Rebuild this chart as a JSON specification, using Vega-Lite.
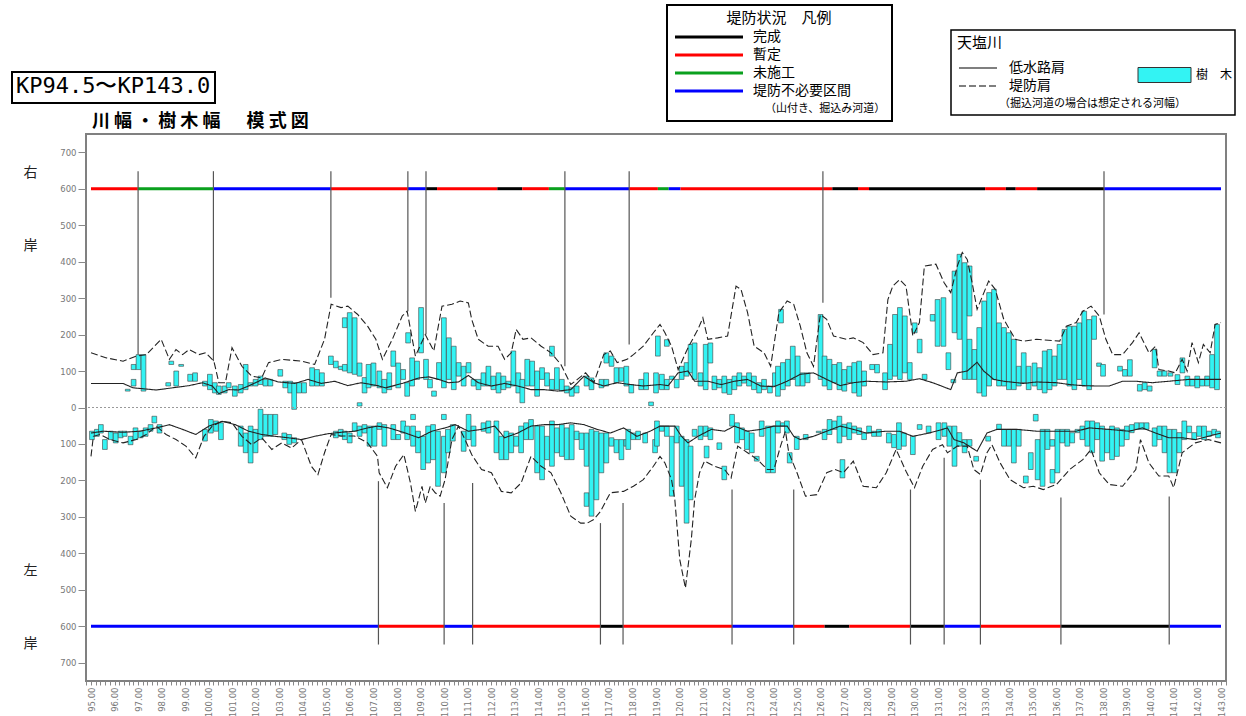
{
"$schema": "https://vega.github.io/schema/vega-lite/v6.json",
"width": 1140, "height": 547,
"autosize": {"type": "none"},
"padding": {"left": 86, "top": 134, "right": 20, "bottom": 35},
"background": "white",
"config": {"view": {"stroke": "#808080", "strokeWidth": 2}, "font": "Noto Sans CJK JP"},
"title": {"text": "川 幅 ・ 樹 木 幅 　 模 式 図", "anchor": "start", "frame": "group", "offset": 2, "dx": 6, "dy": 129, "fontSize": 18, "font": "Noto Sans CJK JP", "fontWeight": "bold", "color": "#000"},
"resolve": {"axis": {"x": "independent", "y": "independent"}},
"datasets": {
"lines": [
{"kp":95,"v":150,"bank":"右岸","kind":"堤防肩"},{"kp":95.66,"v":136,"bank":"右岸","kind":"堤防肩"},{"kp":96.36,"v":127,"bank":"右岸","kind":"堤防肩"},{"kp":96.92,"v":141,"bank":"右岸","kind":"堤防肩"},{"kp":97.35,"v":145,"bank":"右岸","kind":"堤防肩"},{"kp":97.98,"v":187,"bank":"右岸","kind":"堤防肩"},{"kp":98.33,"v":132,"bank":"右岸","kind":"堤防肩"},{"kp":98.61,"v":159,"bank":"右岸","kind":"堤防肩"},{"kp":98.89,"v":145,"bank":"右岸","kind":"堤防肩"},{"kp":99.17,"v":159,"bank":"右岸","kind":"堤防肩"},{"kp":99.59,"v":145,"bank":"右岸","kind":"堤防肩"},{"kp":99.87,"v":150,"bank":"右岸","kind":"堤防肩"},{"kp":100.22,"v":127,"bank":"右岸","kind":"堤防肩"},{"kp":100.43,"v":68,"bank":"右岸","kind":"堤防肩"},{"kp":100.71,"v":68,"bank":"右岸","kind":"堤防肩"},{"kp":100.99,"v":164,"bank":"右岸","kind":"堤防肩"},{"kp":101.41,"v":113,"bank":"右岸","kind":"堤防肩"},{"kp":101.83,"v":86,"bank":"右岸","kind":"堤防肩"},{"kp":102.25,"v":81,"bank":"右岸","kind":"堤防肩"},{"kp":102.54,"v":123,"bank":"右岸","kind":"堤防肩"},{"kp":103.1,"v":132,"bank":"右岸","kind":"堤防肩"},{"kp":103.94,"v":127,"bank":"右岸","kind":"堤防肩"},{"kp":104.5,"v":118,"bank":"右岸","kind":"堤防肩"},{"kp":104.92,"v":187,"bank":"右岸","kind":"堤防肩"},{"kp":105.2,"v":283,"bank":"右岸","kind":"堤防肩"},{"kp":105.62,"v":274,"bank":"右岸","kind":"堤防肩"},{"kp":105.91,"v":278,"bank":"右岸","kind":"堤防肩"},{"kp":106.33,"v":255,"bank":"右岸","kind":"堤防肩"},{"kp":106.75,"v":223,"bank":"右岸","kind":"堤防肩"},{"kp":107.1,"v":187,"bank":"右岸","kind":"堤防肩"},{"kp":107.38,"v":132,"bank":"右岸","kind":"堤防肩"},{"kp":107.8,"v":187,"bank":"右岸","kind":"堤防肩"},{"kp":108.22,"v":251,"bank":"右岸","kind":"堤防肩"},{"kp":108.43,"v":264,"bank":"右岸","kind":"堤防肩"},{"kp":108.78,"v":141,"bank":"右岸","kind":"堤防肩"},{"kp":109.2,"v":200,"bank":"右岸","kind":"堤防肩"},{"kp":109.56,"v":155,"bank":"右岸","kind":"堤防肩"},{"kp":109.91,"v":278,"bank":"右岸","kind":"堤防肩"},{"kp":110.33,"v":283,"bank":"右岸","kind":"堤防肩"},{"kp":110.68,"v":292,"bank":"右岸","kind":"堤防肩"},{"kp":111.03,"v":287,"bank":"右岸","kind":"堤防肩"},{"kp":111.17,"v":242,"bank":"右岸","kind":"堤防肩"},{"kp":111.45,"v":187,"bank":"右岸","kind":"堤防肩"},{"kp":111.87,"v":168,"bank":"右岸","kind":"堤防肩"},{"kp":112.29,"v":168,"bank":"右岸","kind":"堤防肩"},{"kp":112.57,"v":132,"bank":"右岸","kind":"堤防肩"},{"kp":112.85,"v":150,"bank":"右岸","kind":"堤防肩"},{"kp":113.06,"v":214,"bank":"右岸","kind":"堤防肩"},{"kp":113.35,"v":187,"bank":"右岸","kind":"堤防肩"},{"kp":113.69,"v":191,"bank":"右岸","kind":"堤防肩"},{"kp":114.12,"v":168,"bank":"右岸","kind":"堤防肩"},{"kp":114.54,"v":150,"bank":"右岸","kind":"堤防肩"},{"kp":114.96,"v":118,"bank":"右岸","kind":"堤防肩"},{"kp":115.38,"v":63,"bank":"右岸","kind":"堤防肩"},{"kp":115.66,"v":77,"bank":"右岸","kind":"堤防肩"},{"kp":116.01,"v":95,"bank":"右岸","kind":"堤防肩"},{"kp":116.36,"v":68,"bank":"右岸","kind":"堤防肩"},{"kp":116.78,"v":145,"bank":"右岸","kind":"堤防肩"},{"kp":117.06,"v":155,"bank":"右岸","kind":"堤防肩"},{"kp":117.35,"v":123,"bank":"右岸","kind":"堤防肩"},{"kp":117.77,"v":132,"bank":"右岸","kind":"堤防肩"},{"kp":118.04,"v":145,"bank":"右岸","kind":"堤防肩"},{"kp":118.46,"v":168,"bank":"右岸","kind":"堤防肩"},{"kp":118.89,"v":205,"bank":"右岸","kind":"堤防肩"},{"kp":119.17,"v":228,"bank":"右岸","kind":"堤防肩"},{"kp":119.38,"v":205,"bank":"右岸","kind":"堤防肩"},{"kp":119.66,"v":168,"bank":"右岸","kind":"堤防肩"},{"kp":119.94,"v":104,"bank":"右岸","kind":"堤防肩"},{"kp":120.36,"v":164,"bank":"右岸","kind":"堤防肩"},{"kp":120.78,"v":214,"bank":"右岸","kind":"堤防肩"},{"kp":120.99,"v":246,"bank":"右岸","kind":"堤防肩"},{"kp":121.2,"v":187,"bank":"右岸","kind":"堤防肩"},{"kp":121.62,"v":191,"bank":"右岸","kind":"堤防肩"},{"kp":122.04,"v":196,"bank":"右岸","kind":"堤防肩"},{"kp":122.4,"v":333,"bank":"右岸","kind":"堤防肩"},{"kp":122.61,"v":324,"bank":"右岸","kind":"堤防肩"},{"kp":122.89,"v":260,"bank":"右岸","kind":"堤防肩"},{"kp":123.17,"v":168,"bank":"右岸","kind":"堤防肩"},{"kp":123.59,"v":150,"bank":"右岸","kind":"堤防肩"},{"kp":123.87,"v":113,"bank":"右岸","kind":"堤防肩"},{"kp":124.22,"v":260,"bank":"右岸","kind":"堤防肩"},{"kp":124.57,"v":292,"bank":"右岸","kind":"堤防肩"},{"kp":124.85,"v":283,"bank":"右岸","kind":"堤防肩"},{"kp":125.13,"v":223,"bank":"右岸","kind":"堤防肩"},{"kp":125.41,"v":150,"bank":"右岸","kind":"堤防肩"},{"kp":125.69,"v":113,"bank":"右岸","kind":"堤防肩"},{"kp":125.98,"v":255,"bank":"右岸","kind":"堤防肩"},{"kp":126.25,"v":242,"bank":"右岸","kind":"堤防肩"},{"kp":126.54,"v":196,"bank":"右岸","kind":"堤防肩"},{"kp":127.1,"v":187,"bank":"右岸","kind":"堤防肩"},{"kp":127.38,"v":191,"bank":"右岸","kind":"堤防肩"},{"kp":127.8,"v":178,"bank":"右岸","kind":"堤防肩"},{"kp":128.22,"v":145,"bank":"右岸","kind":"堤防肩"},{"kp":128.64,"v":150,"bank":"右岸","kind":"堤防肩"},{"kp":128.85,"v":296,"bank":"右岸","kind":"堤防肩"},{"kp":129.06,"v":333,"bank":"右岸","kind":"堤防肩"},{"kp":129.35,"v":351,"bank":"右岸","kind":"堤防肩"},{"kp":129.62,"v":333,"bank":"右岸","kind":"堤防肩"},{"kp":129.91,"v":196,"bank":"右岸","kind":"堤防肩"},{"kp":130.19,"v":233,"bank":"右岸","kind":"堤防肩"},{"kp":130.4,"v":388,"bank":"右岸","kind":"堤防肩"},{"kp":130.89,"v":393,"bank":"右岸","kind":"堤防肩"},{"kp":131.24,"v":342,"bank":"右岸","kind":"堤防肩"},{"kp":131.52,"v":315,"bank":"右岸","kind":"堤防肩"},{"kp":131.8,"v":388,"bank":"右岸","kind":"堤防肩"},{"kp":132.01,"v":425,"bank":"右岸","kind":"堤防肩"},{"kp":132.22,"v":406,"bank":"右岸","kind":"堤防肩"},{"kp":132.43,"v":342,"bank":"右岸","kind":"堤防肩"},{"kp":132.64,"v":269,"bank":"右岸","kind":"堤防肩"},{"kp":133.13,"v":347,"bank":"右岸","kind":"堤防肩"},{"kp":133.41,"v":324,"bank":"右岸","kind":"堤防肩"},{"kp":133.77,"v":242,"bank":"右岸","kind":"堤防肩"},{"kp":134.26,"v":187,"bank":"右岸","kind":"堤防肩"},{"kp":134.61,"v":182,"bank":"右岸","kind":"堤防肩"},{"kp":135.17,"v":187,"bank":"右岸","kind":"堤防肩"},{"kp":136.15,"v":182,"bank":"右岸","kind":"堤防肩"},{"kp":136.43,"v":223,"bank":"右岸","kind":"堤防肩"},{"kp":136.85,"v":233,"bank":"右岸","kind":"堤防肩"},{"kp":137.13,"v":264,"bank":"右岸","kind":"堤防肩"},{"kp":137.48,"v":278,"bank":"右岸","kind":"堤防肩"},{"kp":137.83,"v":251,"bank":"右岸","kind":"堤防肩"},{"kp":138.11,"v":187,"bank":"右岸","kind":"堤防肩"},{"kp":138.4,"v":145,"bank":"右岸","kind":"堤防肩"},{"kp":138.82,"v":145,"bank":"右岸","kind":"堤防肩"},{"kp":139.24,"v":178,"bank":"右岸","kind":"堤防肩"},{"kp":139.52,"v":205,"bank":"右岸","kind":"堤防肩"},{"kp":139.94,"v":150,"bank":"右岸","kind":"堤防肩"},{"kp":140.22,"v":168,"bank":"右岸","kind":"堤防肩"},{"kp":140.36,"v":104,"bank":"右岸","kind":"堤防肩"},{"kp":140.78,"v":100,"bank":"右岸","kind":"堤防肩"},{"kp":141.06,"v":95,"bank":"右岸","kind":"堤防肩"},{"kp":141.35,"v":132,"bank":"右岸","kind":"堤防肩"},{"kp":141.56,"v":100,"bank":"右岸","kind":"堤防肩"},{"kp":141.77,"v":178,"bank":"右岸","kind":"堤防肩"},{"kp":142.04,"v":123,"bank":"右岸","kind":"堤防肩"},{"kp":142.25,"v":173,"bank":"右岸","kind":"堤防肩"},{"kp":142.54,"v":150,"bank":"右岸","kind":"堤防肩"},{"kp":142.75,"v":228,"bank":"右岸","kind":"堤防肩"},{"kp":143,"v":233,"bank":"右岸","kind":"堤防肩"},
{"kp":95,"v":66,"bank":"右岸","kind":"低水路肩"},{"kp":96.36,"v":66,"bank":"右岸","kind":"低水路肩"},{"kp":96.78,"v":54,"bank":"右岸","kind":"低水路肩"},{"kp":97.77,"v":48,"bank":"右岸","kind":"低水路肩"},{"kp":98.47,"v":54,"bank":"右岸","kind":"低水路肩"},{"kp":99.17,"v":60,"bank":"右岸","kind":"低水路肩"},{"kp":99.73,"v":68,"bank":"右岸","kind":"低水路肩"},{"kp":100.15,"v":59,"bank":"右岸","kind":"低水路肩"},{"kp":100.43,"v":38,"bank":"右岸","kind":"低水路肩"},{"kp":100.85,"v":49,"bank":"右岸","kind":"低水路肩"},{"kp":101.27,"v":48,"bank":"右岸","kind":"低水路肩"},{"kp":101.69,"v":59,"bank":"右岸","kind":"低水路肩"},{"kp":102.12,"v":72,"bank":"右岸","kind":"低水路肩"},{"kp":102.4,"v":81,"bank":"右岸","kind":"低水路肩"},{"kp":102.96,"v":70,"bank":"右岸","kind":"低水路肩"},{"kp":103.66,"v":66,"bank":"右岸","kind":"低水路肩"},{"kp":104.22,"v":77,"bank":"右岸","kind":"低水路肩"},{"kp":104.78,"v":66,"bank":"右岸","kind":"低水路肩"},{"kp":105.35,"v":72,"bank":"右岸","kind":"低水路肩"},{"kp":105.91,"v":60,"bank":"右岸","kind":"低水路肩"},{"kp":106.47,"v":68,"bank":"右岸","kind":"低水路肩"},{"kp":107.17,"v":60,"bank":"右岸","kind":"低水路肩"},{"kp":107.52,"v":54,"bank":"右岸","kind":"低水路肩"},{"kp":108.22,"v":66,"bank":"右岸","kind":"低水路肩"},{"kp":108.92,"v":81,"bank":"右岸","kind":"低水路肩"},{"kp":109.35,"v":84,"bank":"右岸","kind":"低水路肩"},{"kp":109.77,"v":77,"bank":"右岸","kind":"低水路肩"},{"kp":110.19,"v":68,"bank":"右岸","kind":"低水路肩"},{"kp":110.61,"v":70,"bank":"右岸","kind":"低水路肩"},{"kp":111.03,"v":88,"bank":"右岸","kind":"低水路肩"},{"kp":111.45,"v":68,"bank":"右岸","kind":"低水路肩"},{"kp":112.01,"v":59,"bank":"右岸","kind":"低水路肩"},{"kp":112.57,"v":66,"bank":"右岸","kind":"低水路肩"},{"kp":113.13,"v":59,"bank":"右岸","kind":"低水路肩"},{"kp":113.69,"v":49,"bank":"右岸","kind":"低水路肩"},{"kp":114.25,"v":49,"bank":"右岸","kind":"低水路肩"},{"kp":114.82,"v":45,"bank":"右岸","kind":"低水路肩"},{"kp":115.38,"v":49,"bank":"右岸","kind":"低水路肩"},{"kp":115.94,"v":86,"bank":"右岸","kind":"低水路肩"},{"kp":116.36,"v":68,"bank":"右岸","kind":"低水路肩"},{"kp":116.78,"v":59,"bank":"右岸","kind":"低水路肩"},{"kp":117.35,"v":68,"bank":"右岸","kind":"低水路肩"},{"kp":117.91,"v":63,"bank":"右岸","kind":"低水路肩"},{"kp":118.46,"v":59,"bank":"右岸","kind":"低水路肩"},{"kp":119.17,"v":63,"bank":"右岸","kind":"低水路肩"},{"kp":119.52,"v":60,"bank":"右岸","kind":"低水路肩"},{"kp":119.94,"v":95,"bank":"右岸","kind":"低水路肩"},{"kp":120.36,"v":100,"bank":"右岸","kind":"低水路肩"},{"kp":120.64,"v":72,"bank":"右岸","kind":"低水路肩"},{"kp":121.2,"v":72,"bank":"右岸","kind":"低水路肩"},{"kp":121.77,"v":63,"bank":"右岸","kind":"低水路肩"},{"kp":122.33,"v":72,"bank":"右岸","kind":"低水路肩"},{"kp":122.89,"v":77,"bank":"右岸","kind":"低水路肩"},{"kp":123.45,"v":59,"bank":"右岸","kind":"低水路肩"},{"kp":124.01,"v":57,"bank":"右岸","kind":"低水路肩"},{"kp":124.57,"v":72,"bank":"右岸","kind":"低水路肩"},{"kp":125.13,"v":91,"bank":"右岸","kind":"低水路肩"},{"kp":125.69,"v":95,"bank":"右岸","kind":"低水路肩"},{"kp":126.25,"v":77,"bank":"右岸","kind":"低水路肩"},{"kp":126.82,"v":60,"bank":"右岸","kind":"低水路肩"},{"kp":127.38,"v":68,"bank":"右岸","kind":"低水路肩"},{"kp":127.94,"v":72,"bank":"右岸","kind":"低水路肩"},{"kp":128.78,"v":70,"bank":"右岸","kind":"低水路肩"},{"kp":129.62,"v":72,"bank":"右岸","kind":"低水路肩"},{"kp":130.19,"v":79,"bank":"右岸","kind":"低水路肩"},{"kp":130.75,"v":68,"bank":"右岸","kind":"低水路肩"},{"kp":130.96,"v":63,"bank":"右岸","kind":"低水路肩"},{"kp":131.52,"v":49,"bank":"右岸","kind":"低水路肩"},{"kp":131.8,"v":95,"bank":"右岸","kind":"低水路肩"},{"kp":132.22,"v":100,"bank":"右岸","kind":"低水路肩"},{"kp":132.64,"v":124,"bank":"右岸","kind":"低水路肩"},{"kp":132.92,"v":100,"bank":"右岸","kind":"低水路肩"},{"kp":133.35,"v":77,"bank":"右岸","kind":"低水路肩"},{"kp":133.77,"v":72,"bank":"右岸","kind":"低水路肩"},{"kp":134.61,"v":66,"bank":"右岸","kind":"低水路肩"},{"kp":135.17,"v":70,"bank":"右岸","kind":"低水路肩"},{"kp":136.01,"v":68,"bank":"右岸","kind":"低水路肩"},{"kp":136.57,"v":63,"bank":"右岸","kind":"低水路肩"},{"kp":137.13,"v":60,"bank":"右岸","kind":"低水路肩"},{"kp":137.69,"v":59,"bank":"右岸","kind":"低水路肩"},{"kp":138.25,"v":59,"bank":"右岸","kind":"低水路肩"},{"kp":138.82,"v":72,"bank":"右岸","kind":"低水路肩"},{"kp":139.38,"v":72,"bank":"右岸","kind":"低水路肩"},{"kp":140.08,"v":68,"bank":"右岸","kind":"低水路肩"},{"kp":140.78,"v":72,"bank":"右岸","kind":"低水路肩"},{"kp":141.62,"v":77,"bank":"右岸","kind":"低水路肩"},{"kp":142.46,"v":77,"bank":"右岸","kind":"低水路肩"},{"kp":143,"v":77,"bank":"右岸","kind":"低水路肩"},
{"kp":95,"v":-70,"bank":"左岸","kind":"低水路肩"},{"kp":95.52,"v":-65,"bank":"左岸","kind":"低水路肩"},{"kp":96.36,"v":-68,"bank":"左岸","kind":"低水路肩"},{"kp":97.06,"v":-65,"bank":"左岸","kind":"低水路肩"},{"kp":97.77,"v":-56,"bank":"左岸","kind":"低水路肩"},{"kp":98.33,"v":-47,"bank":"左岸","kind":"低水路肩"},{"kp":98.89,"v":-60,"bank":"左岸","kind":"低水路肩"},{"kp":99.45,"v":-74,"bank":"左岸","kind":"低水路肩"},{"kp":100.01,"v":-51,"bank":"左岸","kind":"低水路肩"},{"kp":100.57,"v":-38,"bank":"左岸","kind":"低水路肩"},{"kp":101.13,"v":-47,"bank":"左岸","kind":"低水路肩"},{"kp":101.69,"v":-65,"bank":"左岸","kind":"低水路肩"},{"kp":102.25,"v":-74,"bank":"左岸","kind":"低水路肩"},{"kp":102.82,"v":-79,"bank":"左岸","kind":"低水路肩"},{"kp":103.38,"v":-83,"bank":"左岸","kind":"低水路肩"},{"kp":103.94,"v":-88,"bank":"左岸","kind":"低水路肩"},{"kp":104.5,"v":-79,"bank":"左岸","kind":"低水路肩"},{"kp":105.06,"v":-72,"bank":"左岸","kind":"低水路肩"},{"kp":105.62,"v":-68,"bank":"左岸","kind":"低水路肩"},{"kp":106.19,"v":-65,"bank":"左岸","kind":"低水路肩"},{"kp":106.75,"v":-56,"bank":"左岸","kind":"低水路肩"},{"kp":107.17,"v":-51,"bank":"左岸","kind":"低水路肩"},{"kp":107.66,"v":-56,"bank":"左岸","kind":"低水路肩"},{"kp":108.36,"v":-70,"bank":"左岸","kind":"低水路肩"},{"kp":108.92,"v":-83,"bank":"左岸","kind":"低水路肩"},{"kp":109.48,"v":-65,"bank":"左岸","kind":"低水路肩"},{"kp":110.04,"v":-56,"bank":"左岸","kind":"低水路肩"},{"kp":110.47,"v":-47,"bank":"左岸","kind":"低水路肩"},{"kp":111.03,"v":-65,"bank":"左岸","kind":"低水路肩"},{"kp":111.59,"v":-60,"bank":"左岸","kind":"低水路肩"},{"kp":112.15,"v":-51,"bank":"左岸","kind":"低水路肩"},{"kp":112.57,"v":-83,"bank":"左岸","kind":"低水路肩"},{"kp":113.13,"v":-70,"bank":"左岸","kind":"低水路肩"},{"kp":113.69,"v":-51,"bank":"左岸","kind":"低水路肩"},{"kp":114.25,"v":-47,"bank":"左岸","kind":"低水路肩"},{"kp":114.82,"v":-47,"bank":"左岸","kind":"低水路肩"},{"kp":115.38,"v":-42,"bank":"左岸","kind":"低水路肩"},{"kp":115.94,"v":-47,"bank":"左岸","kind":"低水路肩"},{"kp":116.5,"v":-60,"bank":"左岸","kind":"低水路肩"},{"kp":117.06,"v":-70,"bank":"左岸","kind":"低水路肩"},{"kp":117.62,"v":-56,"bank":"左岸","kind":"低水路肩"},{"kp":118.19,"v":-79,"bank":"左岸","kind":"低水路肩"},{"kp":118.75,"v":-65,"bank":"左岸","kind":"低水路肩"},{"kp":119.17,"v":-51,"bank":"左岸","kind":"低水路肩"},{"kp":119.8,"v":-51,"bank":"左岸","kind":"低水路肩"},{"kp":120.08,"v":-79,"bank":"左岸","kind":"低水路肩"},{"kp":120.36,"v":-97,"bank":"左岸","kind":"低水路肩"},{"kp":120.78,"v":-79,"bank":"左岸","kind":"低水路肩"},{"kp":121.35,"v":-60,"bank":"左岸","kind":"低水路肩"},{"kp":121.91,"v":-65,"bank":"左岸","kind":"低水路肩"},{"kp":122.33,"v":-51,"bank":"左岸","kind":"低水路肩"},{"kp":122.89,"v":-65,"bank":"左岸","kind":"低水路肩"},{"kp":123.45,"v":-60,"bank":"左岸","kind":"低水路肩"},{"kp":124.01,"v":-51,"bank":"左岸","kind":"低水路肩"},{"kp":124.57,"v":-51,"bank":"左岸","kind":"低水路肩"},{"kp":124.85,"v":-79,"bank":"左岸","kind":"低水路肩"},{"kp":125.13,"v":-88,"bank":"左岸","kind":"低水路肩"},{"kp":125.69,"v":-79,"bank":"左岸","kind":"低水路肩"},{"kp":126.25,"v":-65,"bank":"左岸","kind":"低水路肩"},{"kp":126.82,"v":-51,"bank":"左岸","kind":"低水路肩"},{"kp":127.38,"v":-60,"bank":"左岸","kind":"低水路肩"},{"kp":127.94,"v":-70,"bank":"左岸","kind":"低水路肩"},{"kp":128.78,"v":-65,"bank":"左岸","kind":"低水路肩"},{"kp":129.35,"v":-65,"bank":"左岸","kind":"低水路肩"},{"kp":129.91,"v":-79,"bank":"左岸","kind":"低水路肩"},{"kp":130.61,"v":-70,"bank":"左岸","kind":"低水路肩"},{"kp":131.17,"v":-60,"bank":"左岸","kind":"低水路肩"},{"kp":131.38,"v":-56,"bank":"左岸","kind":"低水路肩"},{"kp":131.66,"v":-88,"bank":"左岸","kind":"低水路肩"},{"kp":132.08,"v":-97,"bank":"左岸","kind":"低水路肩"},{"kp":132.64,"v":-120,"bank":"左岸","kind":"低水路肩"},{"kp":133.06,"v":-70,"bank":"左岸","kind":"低水路肩"},{"kp":133.48,"v":-60,"bank":"左岸","kind":"低水路肩"},{"kp":134.33,"v":-60,"bank":"左岸","kind":"低水路肩"},{"kp":135.17,"v":-65,"bank":"左岸","kind":"低水路肩"},{"kp":136.01,"v":-65,"bank":"左岸","kind":"低水路肩"},{"kp":136.85,"v":-65,"bank":"左岸","kind":"低水路肩"},{"kp":137.41,"v":-56,"bank":"左岸","kind":"低水路肩"},{"kp":138.25,"v":-60,"bank":"左岸","kind":"低水路肩"},{"kp":139.09,"v":-65,"bank":"左岸","kind":"低水路肩"},{"kp":139.66,"v":-56,"bank":"左岸","kind":"低水路肩"},{"kp":140.22,"v":-70,"bank":"左岸","kind":"低水路肩"},{"kp":140.78,"v":-83,"bank":"左岸","kind":"低水路肩"},{"kp":141.35,"v":-83,"bank":"左岸","kind":"低水路肩"},{"kp":141.91,"v":-88,"bank":"左岸","kind":"低水路肩"},{"kp":142.46,"v":-79,"bank":"左岸","kind":"低水路肩"},{"kp":143,"v":-70,"bank":"左岸","kind":"低水路肩"},
{"kp":95,"v":-134,"bank":"左岸","kind":"堤防肩"},{"kp":95.1,"v":-79,"bank":"左岸","kind":"堤防肩"},{"kp":95.38,"v":-74,"bank":"左岸","kind":"堤防肩"},{"kp":95.8,"v":-88,"bank":"左岸","kind":"堤防肩"},{"kp":96.36,"v":-97,"bank":"左岸","kind":"堤防肩"},{"kp":96.92,"v":-88,"bank":"左岸","kind":"堤防肩"},{"kp":97.35,"v":-74,"bank":"左岸","kind":"堤防肩"},{"kp":97.77,"v":-51,"bank":"左岸","kind":"堤防肩"},{"kp":98.19,"v":-74,"bank":"左岸","kind":"堤防肩"},{"kp":98.61,"v":-88,"bank":"左岸","kind":"堤防肩"},{"kp":99.03,"v":-106,"bank":"左岸","kind":"堤防肩"},{"kp":99.45,"v":-138,"bank":"左岸","kind":"堤防肩"},{"kp":99.8,"v":-79,"bank":"左岸","kind":"堤防肩"},{"kp":100.15,"v":-51,"bank":"左岸","kind":"堤防肩"},{"kp":100.57,"v":-38,"bank":"左岸","kind":"堤防肩"},{"kp":100.99,"v":-42,"bank":"左岸","kind":"堤防肩"},{"kp":101.41,"v":-79,"bank":"左岸","kind":"堤防肩"},{"kp":101.83,"v":-102,"bank":"左岸","kind":"堤防肩"},{"kp":102.25,"v":-83,"bank":"左岸","kind":"堤防肩"},{"kp":102.68,"v":-115,"bank":"左岸","kind":"堤防肩"},{"kp":103.1,"v":-97,"bank":"左岸","kind":"堤防肩"},{"kp":103.52,"v":-111,"bank":"左岸","kind":"堤防肩"},{"kp":103.94,"v":-88,"bank":"左岸","kind":"堤防肩"},{"kp":104.36,"v":-161,"bank":"左岸","kind":"堤防肩"},{"kp":104.64,"v":-184,"bank":"左岸","kind":"堤防肩"},{"kp":104.92,"v":-124,"bank":"左岸","kind":"堤防肩"},{"kp":105.2,"v":-74,"bank":"左岸","kind":"堤防肩"},{"kp":105.62,"v":-78,"bank":"左岸","kind":"堤防肩"},{"kp":106.19,"v":-78,"bank":"左岸","kind":"堤防肩"},{"kp":106.75,"v":-97,"bank":"左岸","kind":"堤防肩"},{"kp":107.17,"v":-134,"bank":"左岸","kind":"堤防肩"},{"kp":107.24,"v":-179,"bank":"左岸","kind":"堤防肩"},{"kp":107.59,"v":-220,"bank":"左岸","kind":"堤防肩"},{"kp":107.94,"v":-161,"bank":"左岸","kind":"堤防肩"},{"kp":108.29,"v":-129,"bank":"左岸","kind":"堤防肩"},{"kp":108.57,"v":-207,"bank":"左岸","kind":"堤防肩"},{"kp":108.78,"v":-285,"bank":"左岸","kind":"堤防肩"},{"kp":109.06,"v":-216,"bank":"左岸","kind":"堤防肩"},{"kp":109.2,"v":-262,"bank":"左岸","kind":"堤防肩"},{"kp":109.41,"v":-216,"bank":"左岸","kind":"堤防肩"},{"kp":109.62,"v":-234,"bank":"左岸","kind":"堤防肩"},{"kp":109.83,"v":-243,"bank":"左岸","kind":"堤防肩"},{"kp":110.04,"v":-198,"bank":"左岸","kind":"堤防肩"},{"kp":110.33,"v":-88,"bank":"左岸","kind":"堤防肩"},{"kp":110.61,"v":-51,"bank":"左岸","kind":"堤防肩"},{"kp":110.89,"v":-88,"bank":"左岸","kind":"堤防肩"},{"kp":111.17,"v":-129,"bank":"左岸","kind":"堤防肩"},{"kp":111.59,"v":-170,"bank":"左岸","kind":"堤防肩"},{"kp":112.01,"v":-179,"bank":"左岸","kind":"堤防肩"},{"kp":112.43,"v":-230,"bank":"左岸","kind":"堤防肩"},{"kp":112.85,"v":-234,"bank":"左岸","kind":"堤防肩"},{"kp":113.27,"v":-207,"bank":"左岸","kind":"堤防肩"},{"kp":113.69,"v":-134,"bank":"左岸","kind":"堤防肩"},{"kp":114.12,"v":-161,"bank":"左岸","kind":"堤防肩"},{"kp":114.54,"v":-179,"bank":"左岸","kind":"堤防肩"},{"kp":114.96,"v":-234,"bank":"左岸","kind":"堤防肩"},{"kp":115.38,"v":-298,"bank":"左岸","kind":"堤防肩"},{"kp":115.8,"v":-317,"bank":"左岸","kind":"堤防肩"},{"kp":116.08,"v":-317,"bank":"左岸","kind":"堤防肩"},{"kp":116.36,"v":-307,"bank":"左岸","kind":"堤防肩"},{"kp":116.64,"v":-285,"bank":"左岸","kind":"堤防肩"},{"kp":117.06,"v":-234,"bank":"左岸","kind":"堤防肩"},{"kp":117.62,"v":-230,"bank":"左岸","kind":"堤防肩"},{"kp":118.04,"v":-216,"bank":"左岸","kind":"堤防肩"},{"kp":118.46,"v":-198,"bank":"左岸","kind":"堤防肩"},{"kp":118.89,"v":-161,"bank":"左岸","kind":"堤防肩"},{"kp":119.17,"v":-134,"bank":"左岸","kind":"堤防肩"},{"kp":119.38,"v":-152,"bank":"左岸","kind":"堤防肩"},{"kp":119.66,"v":-198,"bank":"左岸","kind":"堤防肩"},{"kp":119.8,"v":-253,"bank":"左岸","kind":"堤防肩"},{"kp":120.01,"v":-417,"bank":"左岸","kind":"堤防肩"},{"kp":120.25,"v":-495,"bank":"左岸","kind":"堤防肩"},{"kp":120.5,"v":-362,"bank":"左岸","kind":"堤防肩"},{"kp":120.64,"v":-253,"bank":"左岸","kind":"堤防肩"},{"kp":120.85,"v":-179,"bank":"左岸","kind":"堤防肩"},{"kp":121.06,"v":-147,"bank":"左岸","kind":"堤防肩"},{"kp":121.48,"v":-161,"bank":"左岸","kind":"堤防肩"},{"kp":121.91,"v":-170,"bank":"左岸","kind":"堤防肩"},{"kp":122.19,"v":-193,"bank":"左岸","kind":"堤防肩"},{"kp":122.47,"v":-106,"bank":"左岸","kind":"堤防肩"},{"kp":122.89,"v":-124,"bank":"左岸","kind":"堤防肩"},{"kp":123.31,"v":-143,"bank":"左岸","kind":"堤防肩"},{"kp":123.73,"v":-170,"bank":"左岸","kind":"堤防肩"},{"kp":124.01,"v":-170,"bank":"左岸","kind":"堤防肩"},{"kp":124.29,"v":-106,"bank":"左岸","kind":"堤防肩"},{"kp":124.5,"v":-65,"bank":"左岸","kind":"堤防肩"},{"kp":124.64,"v":-124,"bank":"左岸","kind":"堤防肩"},{"kp":124.99,"v":-179,"bank":"左岸","kind":"堤防肩"},{"kp":125.35,"v":-243,"bank":"左岸","kind":"堤防肩"},{"kp":125.83,"v":-239,"bank":"左岸","kind":"堤防肩"},{"kp":126.25,"v":-179,"bank":"左岸","kind":"堤防肩"},{"kp":126.61,"v":-170,"bank":"左岸","kind":"堤防肩"},{"kp":126.96,"v":-179,"bank":"左岸","kind":"堤防肩"},{"kp":127.38,"v":-147,"bank":"左岸","kind":"堤防肩"},{"kp":127.8,"v":-216,"bank":"左岸","kind":"堤防肩"},{"kp":128.36,"v":-220,"bank":"左岸","kind":"堤防肩"},{"kp":128.78,"v":-179,"bank":"左岸","kind":"堤防肩"},{"kp":129.2,"v":-115,"bank":"左岸","kind":"堤防肩"},{"kp":129.62,"v":-175,"bank":"左岸","kind":"堤防肩"},{"kp":129.98,"v":-220,"bank":"左岸","kind":"堤防肩"},{"kp":130.33,"v":-161,"bank":"左岸","kind":"堤防肩"},{"kp":130.75,"v":-115,"bank":"左岸","kind":"堤防肩"},{"kp":131.17,"v":-102,"bank":"左岸","kind":"堤防肩"},{"kp":131.38,"v":-124,"bank":"左岸","kind":"堤防肩"},{"kp":131.8,"v":-106,"bank":"左岸","kind":"堤防肩"},{"kp":132.22,"v":-106,"bank":"左岸","kind":"堤防肩"},{"kp":132.5,"v":-170,"bank":"左岸","kind":"堤防肩"},{"kp":132.78,"v":-184,"bank":"左岸","kind":"堤防肩"},{"kp":133.06,"v":-124,"bank":"左岸","kind":"堤防肩"},{"kp":133.27,"v":-102,"bank":"左岸","kind":"堤防肩"},{"kp":133.62,"v":-152,"bank":"左岸","kind":"堤防肩"},{"kp":134.04,"v":-198,"bank":"左岸","kind":"堤防肩"},{"kp":134.61,"v":-220,"bank":"左岸","kind":"堤防肩"},{"kp":135.03,"v":-216,"bank":"左岸","kind":"堤防肩"},{"kp":135.45,"v":-225,"bank":"左岸","kind":"堤防肩"},{"kp":136.01,"v":-211,"bank":"左岸","kind":"堤防肩"},{"kp":136.57,"v":-170,"bank":"左岸","kind":"堤防肩"},{"kp":137.13,"v":-143,"bank":"左岸","kind":"堤防肩"},{"kp":137.48,"v":-115,"bank":"左岸","kind":"堤防肩"},{"kp":137.83,"v":-179,"bank":"左岸","kind":"堤防肩"},{"kp":138.25,"v":-211,"bank":"左岸","kind":"堤防肩"},{"kp":138.82,"v":-216,"bank":"左岸","kind":"堤防肩"},{"kp":139.38,"v":-170,"bank":"左岸","kind":"堤防肩"},{"kp":139.58,"v":-88,"bank":"左岸","kind":"堤防肩"},{"kp":139.94,"v":-152,"bank":"左岸","kind":"堤防肩"},{"kp":140.36,"v":-188,"bank":"左岸","kind":"堤防肩"},{"kp":140.78,"v":-188,"bank":"左岸","kind":"堤防肩"},{"kp":140.99,"v":-220,"bank":"左岸","kind":"堤防肩"},{"kp":141.35,"v":-124,"bank":"左岸","kind":"堤防肩"},{"kp":141.91,"v":-97,"bank":"左岸","kind":"堤防肩"},{"kp":142.46,"v":-88,"bank":"左岸","kind":"堤防肩"},{"kp":143,"v":-97,"bank":"左岸","kind":"堤防肩"}
],
"trees": [
{"kp":96.56,"lo":45,"hi":50},{"kp":96.81,"lo":104,"hi":118},{"kp":96.81,"lo":59,"hi":77},{"kp":97.02,"lo":104,"hi":145},{"kp":97.23,"lo":45,"hi":145},{"kp":98.28,"lo":59,"hi":68},{"kp":98.41,"lo":118,"hi":127},{"kp":98.62,"lo":59,"hi":100},{"kp":98.83,"lo":113,"hi":118},{"kp":99.21,"lo":72,"hi":91},{"kp":99.42,"lo":72,"hi":95},{"kp":99.84,"lo":59,"hi":72},{"kp":100.05,"lo":49,"hi":91},{"kp":100.26,"lo":40,"hi":68},{"kp":100.43,"lo":36,"hi":59},{"kp":100.68,"lo":40,"hi":59},{"kp":100.85,"lo":54,"hi":68},{"kp":101.11,"lo":31,"hi":59},{"kp":101.36,"lo":40,"hi":63},{"kp":101.57,"lo":49,"hi":118},{"kp":101.78,"lo":59,"hi":68},{"kp":101.99,"lo":59,"hi":77},{"kp":102.2,"lo":63,"hi":86},{"kp":102.41,"lo":59,"hi":77},{"kp":102.62,"lo":59,"hi":77},{"kp":103.04,"lo":86,"hi":104},{"kp":103.25,"lo":54,"hi":72},{"kp":103.46,"lo":40,"hi":72},{"kp":103.63,"lo":-5,"hi":68},{"kp":103.84,"lo":40,"hi":68},{"kp":104.05,"lo":40,"hi":68},{"kp":104.39,"lo":59,"hi":109},{"kp":104.6,"lo":59,"hi":104},{"kp":104.81,"lo":59,"hi":95},{"kp":105.19,"lo":118,"hi":141},{"kp":105.4,"lo":109,"hi":127},{"kp":105.61,"lo":104,"hi":113},{"kp":105.78,"lo":219,"hi":246},{"kp":105.78,"lo":100,"hi":118},{"kp":105.99,"lo":95,"hi":260},{"kp":106.2,"lo":91,"hi":246},{"kp":106.41,"lo":86,"hi":122},{"kp":106.41,"lo":4,"hi":13},{"kp":106.62,"lo":40,"hi":82},{"kp":106.79,"lo":54,"hi":118},{"kp":107,"lo":59,"hi":122},{"kp":107.25,"lo":54,"hi":100},{"kp":107.46,"lo":40,"hi":77},{"kp":107.67,"lo":49,"hi":95},{"kp":107.84,"lo":113,"hi":155},{"kp":108.05,"lo":54,"hi":122},{"kp":108.26,"lo":77,"hi":104},{"kp":108.43,"lo":31,"hi":68},{"kp":108.47,"lo":177,"hi":205},{"kp":108.64,"lo":59,"hi":136},{"kp":108.85,"lo":77,"hi":127},{"kp":109.02,"lo":150,"hi":274},{"kp":109.23,"lo":77,"hi":132},{"kp":109.4,"lo":54,"hi":77},{"kp":109.57,"lo":31,"hi":45},{"kp":109.78,"lo":77,"hi":123},{"kp":109.99,"lo":54,"hi":246},{"kp":110.2,"lo":77,"hi":191},{"kp":110.41,"lo":49,"hi":168},{"kp":110.62,"lo":86,"hi":123},{"kp":110.83,"lo":59,"hi":113},{"kp":111.04,"lo":95,"hi":123},{"kp":111.25,"lo":59,"hi":77},{"kp":111.46,"lo":49,"hi":77},{"kp":111.67,"lo":59,"hi":95},{"kp":111.88,"lo":59,"hi":113},{"kp":112.09,"lo":49,"hi":86},{"kp":112.31,"lo":40,"hi":95},{"kp":112.52,"lo":49,"hi":86},{"kp":112.73,"lo":54,"hi":72},{"kp":112.94,"lo":59,"hi":155},{"kp":113.15,"lo":40,"hi":95},{"kp":113.32,"lo":13,"hi":77},{"kp":113.53,"lo":59,"hi":132},{"kp":113.74,"lo":59,"hi":127},{"kp":113.95,"lo":31,"hi":100},{"kp":114.16,"lo":77,"hi":109},{"kp":114.37,"lo":59,"hi":95},{"kp":114.58,"lo":141,"hi":168},{"kp":114.58,"lo":49,"hi":77},{"kp":114.79,"lo":49,"hi":109},{"kp":115,"lo":45,"hi":77},{"kp":115.21,"lo":40,"hi":59},{"kp":115.42,"lo":31,"hi":54},{"kp":115.63,"lo":40,"hi":59},{"kp":116.05,"lo":59,"hi":86},{"kp":116.26,"lo":49,"hi":81},{"kp":116.68,"lo":54,"hi":77},{"kp":116.89,"lo":122,"hi":150},{"kp":116.89,"lo":59,"hi":77},{"kp":117.11,"lo":113,"hi":141},{"kp":117.32,"lo":68,"hi":109},{"kp":117.53,"lo":72,"hi":109},{"kp":117.74,"lo":59,"hi":113},{"kp":117.95,"lo":40,"hi":63},{"kp":118.37,"lo":49,"hi":77},{"kp":118.58,"lo":49,"hi":95},{"kp":118.79,"lo":5,"hi":15},{"kp":119,"lo":40,"hi":95},{"kp":119.08,"lo":141,"hi":196},{"kp":119.25,"lo":49,"hi":91},{"kp":119.46,"lo":168,"hi":186},{"kp":119.46,"lo":49,"hi":77},{"kp":119.67,"lo":77,"hi":86},{"kp":119.88,"lo":54,"hi":77},{"kp":120.09,"lo":77,"hi":113},{"kp":120.3,"lo":86,"hi":123},{"kp":120.47,"lo":95,"hi":173},{"kp":120.64,"lo":77,"hi":177},{"kp":120.89,"lo":59,"hi":95},{"kp":121.11,"lo":49,"hi":173},{"kp":121.31,"lo":122,"hi":177},{"kp":121.48,"lo":49,"hi":86},{"kp":121.69,"lo":54,"hi":77},{"kp":121.9,"lo":40,"hi":86},{"kp":122.12,"lo":36,"hi":77},{"kp":122.33,"lo":49,"hi":86},{"kp":122.54,"lo":59,"hi":95},{"kp":122.74,"lo":67,"hi":86},{"kp":122.95,"lo":59,"hi":95},{"kp":123.16,"lo":49,"hi":86},{"kp":123.38,"lo":40,"hi":68},{"kp":123.59,"lo":49,"hi":77},{"kp":123.84,"lo":40,"hi":59},{"kp":124.05,"lo":59,"hi":95},{"kp":124.18,"lo":31,"hi":113},{"kp":124.31,"lo":232,"hi":269},{"kp":124.39,"lo":49,"hi":123},{"kp":124.6,"lo":59,"hi":132},{"kp":124.81,"lo":77,"hi":168},{"kp":125.02,"lo":59,"hi":141},{"kp":125.23,"lo":59,"hi":95},{"kp":125.44,"lo":68,"hi":95},{"kp":125.99,"lo":77,"hi":255},{"kp":126.16,"lo":59,"hi":141},{"kp":126.37,"lo":49,"hi":132},{"kp":126.58,"lo":68,"hi":118},{"kp":126.79,"lo":49,"hi":123},{"kp":127,"lo":45,"hi":104},{"kp":127.21,"lo":68,"hi":113},{"kp":127.42,"lo":40,"hi":123},{"kp":127.63,"lo":31,"hi":127},{"kp":127.84,"lo":59,"hi":100},{"kp":128.18,"lo":104,"hi":118},{"kp":128.39,"lo":95,"hi":118},{"kp":128.73,"lo":49,"hi":95},{"kp":128.94,"lo":77,"hi":173},{"kp":129.15,"lo":86,"hi":255},{"kp":129.36,"lo":77,"hi":274},{"kp":129.57,"lo":95,"hi":251},{"kp":129.78,"lo":77,"hi":123},{"kp":129.99,"lo":205,"hi":232},{"kp":130.2,"lo":150,"hi":187},{"kp":130.41,"lo":77,"hi":91},{"kp":130.75,"lo":237,"hi":255},{"kp":130.96,"lo":168,"hi":296},{"kp":131.21,"lo":168,"hi":301},{"kp":131.42,"lo":104,"hi":150},{"kp":131.63,"lo":68,"hi":77},{"kp":131.68,"lo":205,"hi":374},{"kp":131.89,"lo":187,"hi":420},{"kp":132.11,"lo":77,"hi":397},{"kp":132.32,"lo":251,"hi":388},{"kp":132.32,"lo":77,"hi":187},{"kp":132.53,"lo":77,"hi":159},{"kp":132.73,"lo":40,"hi":219},{"kp":132.94,"lo":31,"hi":292},{"kp":133.15,"lo":59,"hi":315},{"kp":133.36,"lo":77,"hi":324},{"kp":133.57,"lo":59,"hi":232},{"kp":133.78,"lo":59,"hi":219},{"kp":133.99,"lo":49,"hi":205},{"kp":134.2,"lo":49,"hi":187},{"kp":134.41,"lo":59,"hi":113},{"kp":134.62,"lo":68,"hi":150},{"kp":134.83,"lo":49,"hi":113},{"kp":135.08,"lo":59,"hi":122},{"kp":135.29,"lo":49,"hi":109},{"kp":135.51,"lo":40,"hi":155},{"kp":135.72,"lo":49,"hi":159},{"kp":135.93,"lo":59,"hi":141},{"kp":136.14,"lo":77,"hi":173},{"kp":136.35,"lo":77,"hi":214},{"kp":136.56,"lo":59,"hi":223},{"kp":136.77,"lo":49,"hi":223},{"kp":136.98,"lo":77,"hi":232},{"kp":137.19,"lo":59,"hi":264},{"kp":137.4,"lo":49,"hi":241},{"kp":137.61,"lo":187,"hi":251},{"kp":137.82,"lo":113,"hi":122},{"kp":137.99,"lo":86,"hi":118},{"kp":138.71,"lo":100,"hi":113},{"kp":138.92,"lo":86,"hi":104},{"kp":139.13,"lo":86,"hi":131},{"kp":139.55,"lo":45,"hi":63},{"kp":139.76,"lo":49,"hi":68},{"kp":139.97,"lo":45,"hi":59},{"kp":140.18,"lo":109,"hi":159},{"kp":140.39,"lo":86,"hi":100},{"kp":140.6,"lo":86,"hi":100},{"kp":140.85,"lo":86,"hi":95},{"kp":141.15,"lo":63,"hi":90},{"kp":141.36,"lo":95,"hi":136},{"kp":141.57,"lo":59,"hi":86},{"kp":141.78,"lo":59,"hi":77},{"kp":141.99,"lo":54,"hi":86},{"kp":142.2,"lo":59,"hi":77},{"kp":142.41,"lo":59,"hi":86},{"kp":142.62,"lo":54,"hi":145},{"kp":142.83,"lo":49,"hi":228},
{"kp":95.04,"lo":-65,"hi":-88},{"kp":95.25,"lo":-60,"hi":-79},{"kp":95.42,"lo":-47,"hi":-70},{"kp":95.59,"lo":-88,"hi":-115},{"kp":95.84,"lo":-65,"hi":-88},{"kp":96.05,"lo":-70,"hi":-97},{"kp":96.26,"lo":-65,"hi":-83},{"kp":96.43,"lo":-65,"hi":-79},{"kp":96.68,"lo":-79,"hi":-102},{"kp":96.89,"lo":-56,"hi":-88},{"kp":97.11,"lo":-65,"hi":-83},{"kp":97.32,"lo":-56,"hi":-79},{"kp":97.53,"lo":-47,"hi":-65},{"kp":97.69,"lo":-24,"hi":-42},{"kp":97.91,"lo":-47,"hi":-70},{"kp":99.84,"lo":-60,"hi":-92},{"kp":100.09,"lo":-33,"hi":-70},{"kp":100.31,"lo":-37,"hi":-65},{"kp":100.52,"lo":-42,"hi":-88},{"kp":101.36,"lo":-51,"hi":-106},{"kp":101.57,"lo":-70,"hi":-124},{"kp":101.78,"lo":-51,"hi":-152},{"kp":101.99,"lo":-60,"hi":-124},{"kp":102.2,"lo":-5,"hi":-88},{"kp":102.41,"lo":-19,"hi":-79},{"kp":102.62,"lo":-19,"hi":-79},{"kp":102.83,"lo":-19,"hi":-74},{"kp":103.21,"lo":-70,"hi":-88},{"kp":103.42,"lo":-74,"hi":-101},{"kp":103.63,"lo":-83,"hi":-97},{"kp":105.4,"lo":-65,"hi":-83},{"kp":105.61,"lo":-60,"hi":-79},{"kp":105.78,"lo":-65,"hi":-88},{"kp":105.99,"lo":-70,"hi":-97},{"kp":106.2,"lo":-42,"hi":-65},{"kp":106.41,"lo":-51,"hi":-79},{"kp":106.62,"lo":-47,"hi":-70},{"kp":106.83,"lo":-51,"hi":-106},{"kp":107.04,"lo":-51,"hi":-106},{"kp":107.25,"lo":-42,"hi":-60},{"kp":107.46,"lo":-47,"hi":-106},{"kp":107.84,"lo":-47,"hi":-88},{"kp":108.05,"lo":-74,"hi":-88},{"kp":108.26,"lo":-37,"hi":-70},{"kp":108.43,"lo":-51,"hi":-88},{"kp":108.68,"lo":-19,"hi":-33},{"kp":108.68,"lo":-51,"hi":-106},{"kp":108.89,"lo":-65,"hi":-124},{"kp":109.11,"lo":-79,"hi":-170},{"kp":109.32,"lo":-51,"hi":-152},{"kp":109.53,"lo":-47,"hi":-143},{"kp":109.74,"lo":-65,"hi":-216},{"kp":109.99,"lo":-19,"hi":-33},{"kp":109.99,"lo":-79,"hi":-179},{"kp":110.16,"lo":-60,"hi":-124},{"kp":110.37,"lo":-47,"hi":-92},{"kp":110.83,"lo":-65,"hi":-120},{"kp":111.04,"lo":-19,"hi":-88},{"kp":111.25,"lo":-51,"hi":-106},{"kp":111.67,"lo":-42,"hi":-65},{"kp":111.88,"lo":-37,"hi":-70},{"kp":112.22,"lo":-37,"hi":-124},{"kp":112.43,"lo":-79,"hi":-143},{"kp":112.64,"lo":-65,"hi":-143},{"kp":112.85,"lo":-70,"hi":-124},{"kp":113.06,"lo":-79,"hi":-106},{"kp":113.27,"lo":-51,"hi":-124},{"kp":113.48,"lo":-42,"hi":-88},{"kp":113.69,"lo":-33,"hi":-88},{"kp":113.95,"lo":-51,"hi":-179},{"kp":114.16,"lo":-51,"hi":-198},{"kp":114.37,"lo":-79,"hi":-143},{"kp":114.58,"lo":-37,"hi":-161},{"kp":114.79,"lo":-56,"hi":-124},{"kp":115,"lo":-47,"hi":-134},{"kp":115.21,"lo":-56,"hi":-143},{"kp":115.42,"lo":-47,"hi":-143},{"kp":115.63,"lo":-65,"hi":-88},{"kp":115.84,"lo":-70,"hi":-115},{"kp":116.05,"lo":-70,"hi":-161},{"kp":116.05,"lo":-234,"hi":-271},{"kp":116.26,"lo":-60,"hi":-298},{"kp":116.47,"lo":-65,"hi":-253},{"kp":116.68,"lo":-70,"hi":-179},{"kp":116.89,"lo":-70,"hi":-152},{"kp":117.11,"lo":-83,"hi":-106},{"kp":117.32,"lo":-88,"hi":-124},{"kp":117.53,"lo":-88,"hi":-143},{"kp":117.74,"lo":-88,"hi":-106},{"kp":117.82,"lo":-60,"hi":-115},{"kp":118.03,"lo":-70,"hi":-88},{"kp":118.24,"lo":-65,"hi":-88},{"kp":118.54,"lo":-70,"hi":-97},{"kp":118.96,"lo":-88,"hi":-124},{"kp":119.04,"lo":-37,"hi":-106},{"kp":119.25,"lo":-51,"hi":-65},{"kp":119.46,"lo":-51,"hi":-79},{"kp":119.67,"lo":-79,"hi":-243},{"kp":119.88,"lo":-51,"hi":-97},{"kp":120.09,"lo":-79,"hi":-216},{"kp":120.3,"lo":-88,"hi":-317},{"kp":120.47,"lo":-106,"hi":-253},{"kp":120.64,"lo":-60,"hi":-79},{"kp":120.89,"lo":-51,"hi":-88},{"kp":121.11,"lo":-51,"hi":-79},{"kp":121.15,"lo":-106,"hi":-138},{"kp":121.31,"lo":-56,"hi":-88},{"kp":121.69,"lo":-97,"hi":-115},{"kp":121.9,"lo":-161,"hi":-198},{"kp":122.23,"lo":-19,"hi":-51},{"kp":122.44,"lo":-42,"hi":-97},{"kp":122.65,"lo":-56,"hi":-88},{"kp":122.86,"lo":-65,"hi":-115},{"kp":123.07,"lo":-70,"hi":-124},{"kp":123.28,"lo":-134,"hi":-147},{"kp":123.49,"lo":-37,"hi":-79},{"kp":123.76,"lo":-51,"hi":-179},{"kp":123.97,"lo":-51,"hi":-179},{"kp":124.18,"lo":-37,"hi":-70},{"kp":124.39,"lo":-42,"hi":-51},{"kp":124.56,"lo":-37,"hi":-70},{"kp":124.68,"lo":-124,"hi":-152},{"kp":124.98,"lo":-79,"hi":-115},{"kp":125.36,"lo":-74,"hi":-88},{"kp":125.91,"lo":-65,"hi":-69},{"kp":126.16,"lo":-60,"hi":-88},{"kp":126.37,"lo":-33,"hi":-74},{"kp":126.58,"lo":-37,"hi":-60},{"kp":126.79,"lo":-24,"hi":-97},{"kp":126.92,"lo":-143,"hi":-193},{"kp":127,"lo":-46,"hi":-79},{"kp":127.21,"lo":-42,"hi":-88},{"kp":127.42,"lo":-51,"hi":-70},{"kp":127.63,"lo":-56,"hi":-74},{"kp":127.84,"lo":-70,"hi":-88},{"kp":128.05,"lo":-51,"hi":-70},{"kp":128.26,"lo":-65,"hi":-79},{"kp":128.47,"lo":-60,"hi":-79},{"kp":128.89,"lo":-70,"hi":-97},{"kp":129.11,"lo":-74,"hi":-110},{"kp":129.32,"lo":-42,"hi":-115},{"kp":129.53,"lo":-70,"hi":-106},{"kp":129.91,"lo":-79,"hi":-129},{"kp":130.2,"lo":-47,"hi":-60},{"kp":130.58,"lo":-51,"hi":-69},{"kp":131,"lo":-42,"hi":-88},{"kp":131.25,"lo":-42,"hi":-79},{"kp":131.46,"lo":-51,"hi":-106},{"kp":131.68,"lo":-51,"hi":-161},{"kp":131.89,"lo":-69,"hi":-106},{"kp":132.11,"lo":-88,"hi":-124},{"kp":132.32,"lo":-88,"hi":-106},{"kp":132.6,"lo":-134,"hi":-147},{"kp":133.11,"lo":-79,"hi":-92},{"kp":133.57,"lo":-46,"hi":-60},{"kp":133.78,"lo":-60,"hi":-106},{"kp":133.99,"lo":-60,"hi":-106},{"kp":134.2,"lo":-60,"hi":-152},{"kp":134.41,"lo":-60,"hi":-106},{"kp":134.71,"lo":-188,"hi":-207},{"kp":134.92,"lo":-124,"hi":-170},{"kp":135.13,"lo":-19,"hi":-37},{"kp":135.21,"lo":-88,"hi":-198},{"kp":135.42,"lo":-60,"hi":-216},{"kp":135.63,"lo":-60,"hi":-115},{"kp":135.84,"lo":-88,"hi":-106},{"kp":135.84,"lo":-170,"hi":-207},{"kp":136.05,"lo":-60,"hi":-179},{"kp":136.26,"lo":-60,"hi":-97},{"kp":136.47,"lo":-60,"hi":-106},{"kp":136.68,"lo":-69,"hi":-97},{"kp":136.9,"lo":-60,"hi":-69},{"kp":137.11,"lo":-51,"hi":-88},{"kp":137.32,"lo":-37,"hi":-106},{"kp":137.53,"lo":-37,"hi":-124},{"kp":137.74,"lo":-42,"hi":-88},{"kp":137.95,"lo":-51,"hi":-147},{"kp":138.16,"lo":-60,"hi":-124},{"kp":138.37,"lo":-51,"hi":-143},{"kp":138.58,"lo":-56,"hi":-134},{"kp":138.79,"lo":-60,"hi":-106},{"kp":139,"lo":-51,"hi":-88},{"kp":139.21,"lo":-47,"hi":-69},{"kp":139.42,"lo":-42,"hi":-60},{"kp":139.63,"lo":-42,"hi":-60},{"kp":139.84,"lo":-42,"hi":-60},{"kp":140.18,"lo":-56,"hi":-106},{"kp":140.39,"lo":-51,"hi":-88},{"kp":140.6,"lo":-51,"hi":-124},{"kp":140.81,"lo":-60,"hi":-179},{"kp":141.02,"lo":-60,"hi":-179},{"kp":141.23,"lo":-69,"hi":-124},{"kp":141.44,"lo":-37,"hi":-88},{"kp":141.65,"lo":-51,"hi":-69},{"kp":141.86,"lo":-69,"hi":-88},{"kp":142.07,"lo":-51,"hi":-79},{"kp":142.28,"lo":-51,"hi":-88},{"kp":142.49,"lo":-65,"hi":-79},{"kp":142.71,"lo":-60,"hi":-74},{"kp":142.87,"lo":-65,"hi":-83}
],
"verticals": [
{"kp":97.0,"bank":"右岸","end":145},{"kp":100.2,"bank":"右岸","end":127},{"kp":105.19,"bank":"右岸","end":301},{"kp":108.46,"bank":"右岸","end":264},{"kp":109.23,"bank":"右岸","end":200},{"kp":115.13,"bank":"右岸","end":113},{"kp":117.86,"bank":"右岸","end":173},{"kp":126.09,"bank":"右岸","end":287},{"kp":138.03,"bank":"右岸","end":255},
{"kp":107.21,"bank":"左岸","end":-202},{"kp":110.0,"bank":"左岸","end":-262},{"kp":111.21,"bank":"左岸","end":-207},{"kp":116.64,"bank":"左岸","end":-317},{"kp":117.6,"bank":"左岸","end":-262},{"kp":122.23,"bank":"左岸","end":-225},{"kp":124.85,"bank":"左岸","end":-225},{"kp":129.81,"bank":"左岸","end":-225},{"kp":131.24,"bank":"左岸","end":-138},{"kp":132.78,"bank":"左岸","end":-198},{"kp":136.2,"bank":"左岸","end":-247},{"kp":140.8,"bank":"左岸","end":-244}
],
"status": [
{"kp1":95,"kp2":96.99,"bank":"右岸","status":"暫定"},{"kp1":96.99,"kp2":100.2,"bank":"右岸","status":"未施工"},{"kp1":100.2,"kp2":105.19,"bank":"右岸","status":"堤防不必要区間"},{"kp1":105.19,"kp2":108.46,"bank":"右岸","status":"暫定"},{"kp1":108.46,"kp2":109.23,"bank":"右岸","status":"堤防不必要区間"},{"kp1":109.23,"kp2":109.7,"bank":"右岸","status":"完成"},{"kp1":109.7,"kp2":112.26,"bank":"右岸","status":"暫定"},{"kp1":112.26,"kp2":113.32,"bank":"右岸","status":"完成"},{"kp1":113.32,"kp2":114.45,"bank":"右岸","status":"暫定"},{"kp1":114.45,"kp2":115.13,"bank":"右岸","status":"未施工"},{"kp1":115.13,"kp2":117.86,"bank":"右岸","status":"堤防不必要区間"},{"kp1":117.86,"kp2":119.08,"bank":"右岸","status":"暫定"},{"kp1":119.08,"kp2":119.54,"bank":"右岸","status":"未施工"},{"kp1":119.54,"kp2":120.04,"bank":"右岸","status":"堤防不必要区間"},{"kp1":120.04,"kp2":126.49,"bank":"右岸","status":"暫定"},{"kp1":126.49,"kp2":127.58,"bank":"右岸","status":"完成"},{"kp1":127.58,"kp2":128.05,"bank":"右岸","status":"暫定"},{"kp1":128.05,"kp2":132.98,"bank":"右岸","status":"完成"},{"kp1":132.98,"kp2":133.86,"bank":"右岸","status":"暫定"},{"kp1":133.86,"kp2":134.28,"bank":"右岸","status":"完成"},{"kp1":134.28,"kp2":135.19,"bank":"右岸","status":"暫定"},{"kp1":135.19,"kp2":138.03,"bank":"右岸","status":"完成"},{"kp1":138.03,"kp2":143,"bank":"右岸","status":"堤防不必要区間"},
{"kp1":95,"kp2":107.21,"bank":"左岸","status":"堤防不必要区間"},{"kp1":107.21,"kp2":110.0,"bank":"左岸","status":"暫定"},{"kp1":110.0,"kp2":111.21,"bank":"左岸","status":"堤防不必要区間"},{"kp1":111.21,"kp2":116.64,"bank":"左岸","status":"暫定"},{"kp1":116.64,"kp2":117.6,"bank":"左岸","status":"完成"},{"kp1":117.6,"kp2":122.23,"bank":"左岸","status":"暫定"},{"kp1":122.23,"kp2":124.85,"bank":"左岸","status":"堤防不必要区間"},{"kp1":124.85,"kp2":126.16,"bank":"左岸","status":"暫定"},{"kp1":126.16,"kp2":127.21,"bank":"左岸","status":"完成"},{"kp1":127.21,"kp2":129.81,"bank":"左岸","status":"暫定"},{"kp1":129.81,"kp2":131.24,"bank":"左岸","status":"完成"},{"kp1":131.24,"kp2":132.78,"bank":"左岸","status":"堤防不必要区間"},{"kp1":132.78,"kp2":136.2,"bank":"左岸","status":"暫定"},{"kp1":136.2,"kp2":140.8,"bank":"左岸","status":"完成"},{"kp1":140.8,"kp2":143,"bank":"左岸","status":"堤防不必要区間"}
]
},
"layer": [
{"data": {"name": "trees"},
 "mark": {"type": "bar", "size": 4.75, "stroke": "#404040", "strokeWidth": 0.6},
 "encoding": {
  "x": {"field": "kp", "type": "quantitative", "scale": {"domain": [95, 143], "nice": false, "zero": false},
   "axis": {"title": null,
    "tickCount": 240, "labelExpr": "datum.value % 1 === 0 ? format(datum.value, '.2f') : ''", "labelAngle": 270, "labelFontSize": 8.5, "labelColor": "#777", "labelFont": "DejaVu Sans", "labelOverlap": false, "labelFlush": false, "labelPadding": 2, "tickColor": "#888", "tickSize": 4, "domain": false, "grid": false}},
  "y": {"field": "lo", "type": "quantitative", "scale": {"domain": [-750, 750], "nice": false, "zero": false},
   "axis": {"title": ["右","岸"], "titleAngle": 0, "titleAlign": "center", "titleBaseline": "top", "titleX": -56, "titleY": 31, "titleLineHeight": 73, "titleFontSize": 14, "titleFontWeight": "normal", "titleColor": "#222", "titleFont": "Noto Sans CJK JP",
    "values": [-700,-600,-500,-400,-300,-200,-100,0,100,200,300,400,500,600,700], "labelExpr": "format(abs(datum.value), 'd')", "labelFontSize": 8.5, "labelColor": "#777", "labelFont": "DejaVu Sans", "tickColor": "#888", "tickSize": 8, "labelPadding": 2, "domain": false, "grid": false}},
  "y2": {"field": "hi"},
  "fill": {"datum": "樹　木", "scale": {"range": ["#33f3f3"]},
   "legend": {"title": null, "orient": "none", "legendX": 1051, "legendY": -65, "symbolType": "M-1,-1.5H9.6V1.5H-1Z", "symbolSize": 100, "symbolFillColor": "#33f3f3", "symbolOpacity": 1, "symbolStrokeColor": "#333", "symbolStrokeWidth": 1, "labelFont": "Noto Sans CJK JP", "labelFontSize": 12, "labelColor": "#000", "labelOffset": 47, "padding": 0}}
 }},
{"data": {"name": "lines"},
 "mark": {"type": "line", "stroke": "#222", "strokeWidth": 1.1},
 "encoding": {
  "x": {"field": "kp", "type": "quantitative", "axis": null},
  "y": {"field": "v", "type": "quantitative",
   "axis": {"orient": "right", "title": ["左","岸"], "titleAngle": 0, "titleAlign": "center", "titleBaseline": "top", "titleX": -1196, "titleY": 429, "titleLineHeight": 73, "titleFontSize": 14, "titleFontWeight": "normal", "titleColor": "#222", "titleFont": "Noto Sans CJK JP", "labels": false, "ticks": false, "domain": false, "grid": false}},
  "detail": {"field": "bank", "type": "nominal"},
  "strokeDash": {"field": "kind", "type": "nominal",
   "scale": {"domain": ["低水路肩", "堤防肩", "（掘込河道の場合は想定される河幅）"], "range": [[1, 0], [7, 3], [1, 0]]},
   "legend": {"title": "天塩川", "titleLimit": 500, "orient": "none", "legendX": 865, "legendY": -104, "symbolType": "M-1,0H6.6", "symbolSize": 100, "symbolStrokeColor": "#000", "symbolStrokeWidth": 1.2, "labelFont": "Noto Sans CJK JP", "labelFontSize": 14, "labelColor": "#000", "labelOffset": 38, "labelLimit": 400, "titleFont": "Noto Sans CJK JP", "titleFontSize": 15, "titleFontWeight": "normal", "titleColor": "#000", "titleAnchor": "start", "titlePadding": 10, "rowPadding": 4, "padding": 6, "strokeColor": "#000",
    "encode": {"legend": {"update": {"strokeWidth": {"value": 1.5}}}, "labels": {"update": {"fontSize": {"signal": "datum.label === '（掘込河道の場合は想定される河幅）' ? 11 : 14"}, "dx": {"signal": "datum.label === '（掘込河道の場合は想定される河幅）' ? -10 : 0"}}}, "symbols": {"update": {"opacity": {"signal": "datum.label === '（掘込河道の場合は想定される河幅）' ? 0 : 1"}, "shape": {"signal": "datum.label === '（掘込河道の場合は想定される河幅）' ? 'M-1,0H53' : 'M-1,0H6.6'"}}}}}}
 }},
{"data": {"values": [{}]},
 "mark": {"type": "rule", "stroke": "#999", "strokeDash": [2, 2], "strokeWidth": 1},
 "encoding": {"y": {"datum": 0, "axis": null},
  "color": {"datum": "KP", "scale": {"range": ["#999999"]},
   "legend": {"title": "KP94.5〜KP143.0", "orient": "none", "legendX": -74, "legendY": -62, "titleFont": "DejaVu Sans Mono", "titleFontSize": 22, "titleFontWeight": "normal", "titleColor": "#000", "titleLimit": 500, "titlePadding": 0, "padding": 4, "strokeColor": "#000", "symbolSize": 1, "symbolOpacity": 0, "symbolStrokeWidth": 0, "labelExpr": "''", "labelFontSize": 1, "rowPadding": 0,
    "encode": {"legend": {"update": {"strokeWidth": {"value": 2}}}}}}}},
{"data": {"name": "status"}, "transform": [{"filter": "datum.bank === '右岸'"}],
 "mark": {"type": "rule", "strokeWidth": 3},
 "encoding": {
  "x": {"field": "kp1", "type": "quantitative", "axis": null}, "x2": {"field": "kp2"},
  "y": {"datum": 600, "axis": null},
  "stroke": {"field": "status", "type": "nominal",
   "scale": {"domain": ["完成", "暫定", "未施工", "堤防不必要区間", "（山付き、掘込み河道）"], "range": ["#000000", "#ff0000", "#0aa01e", "#0000ff", "#ffffff"]},
   "legend": {"title": "堤防状況　凡例", "orient": "none", "legendX": 581, "legendY": -129, "symbolType": "M-1,0H12.6", "symbolSize": 100, "symbolStrokeWidth": 3, "labelFont": "Noto Sans CJK JP", "labelFontSize": 14, "labelColor": "#000", "labelOffset": 66, "labelLimit": 400, "titleFont": "Noto Sans CJK JP", "titleFontSize": 15, "titleFontWeight": "normal", "titleColor": "#000", "titleAnchor": "middle", "titlePadding": 4, "rowPadding": 4, "padding": 6, "strokeColor": "#000", "fillColor": "white",
    "encode": {"legend": {"update": {"strokeWidth": {"value": 2}}}, "labels": {"update": {"fontSize": {"signal": "datum.label === '（山付き、掘込み河道）' ? 11 : 14"}, "dx": {"signal": "datum.label === '（山付き、掘込み河道）' ? 12 : 0"}}}}}}
 }},
{"data": {"name": "status"}, "transform": [{"filter": "datum.bank === '左岸'"}],
 "mark": {"type": "rule", "strokeWidth": 3},
 "encoding": {
  "x": {"field": "kp1", "type": "quantitative", "axis": null}, "x2": {"field": "kp2"},
  "y": {"datum": -600, "axis": null},
  "stroke": {"field": "status", "type": "nominal",
   "scale": {"domain": ["完成", "暫定", "未施工", "堤防不必要区間", "（山付き、掘込み河道）"], "range": ["#000000", "#ff0000", "#0aa01e", "#0000ff", "#ffffff"]},
   "legend": {"title": "堤防状況　凡例", "orient": "none", "legendX": 581, "legendY": -129, "symbolType": "M-1,0H12.6", "symbolSize": 100, "symbolStrokeWidth": 3, "labelFont": "Noto Sans CJK JP", "labelFontSize": 14, "labelColor": "#000", "labelOffset": 66, "labelLimit": 400, "titleFont": "Noto Sans CJK JP", "titleFontSize": 15, "titleFontWeight": "normal", "titleColor": "#000", "titleAnchor": "middle", "titlePadding": 4, "rowPadding": 4, "padding": 6, "strokeColor": "#000", "fillColor": "white",
    "encode": {"legend": {"update": {"strokeWidth": {"value": 2}}}, "labels": {"update": {"fontSize": {"signal": "datum.label === '（山付き、掘込み河道）' ? 11 : 14"}, "dx": {"signal": "datum.label === '（山付き、掘込み河道）' ? 12 : 0"}}}}}}
 }},
{"data": {"name": "verticals"}, "transform": [{"filter": "datum.bank === '右岸'"}],
 "mark": {"type": "rule", "stroke": "#555", "strokeWidth": 1.2},
 "encoding": {"x": {"field": "kp", "type": "quantitative", "axis": null}, "y": {"field": "end", "type": "quantitative", "axis": null}, "y2": {"datum": 648}}},
{"data": {"name": "verticals"}, "transform": [{"filter": "datum.bank === '左岸'"}],
 "mark": {"type": "rule", "stroke": "#555", "strokeWidth": 1.2},
 "encoding": {"x": {"field": "kp", "type": "quantitative", "axis": null}, "y": {"field": "end", "type": "quantitative", "axis": null}, "y2": {"datum": -650}}}
]
}
